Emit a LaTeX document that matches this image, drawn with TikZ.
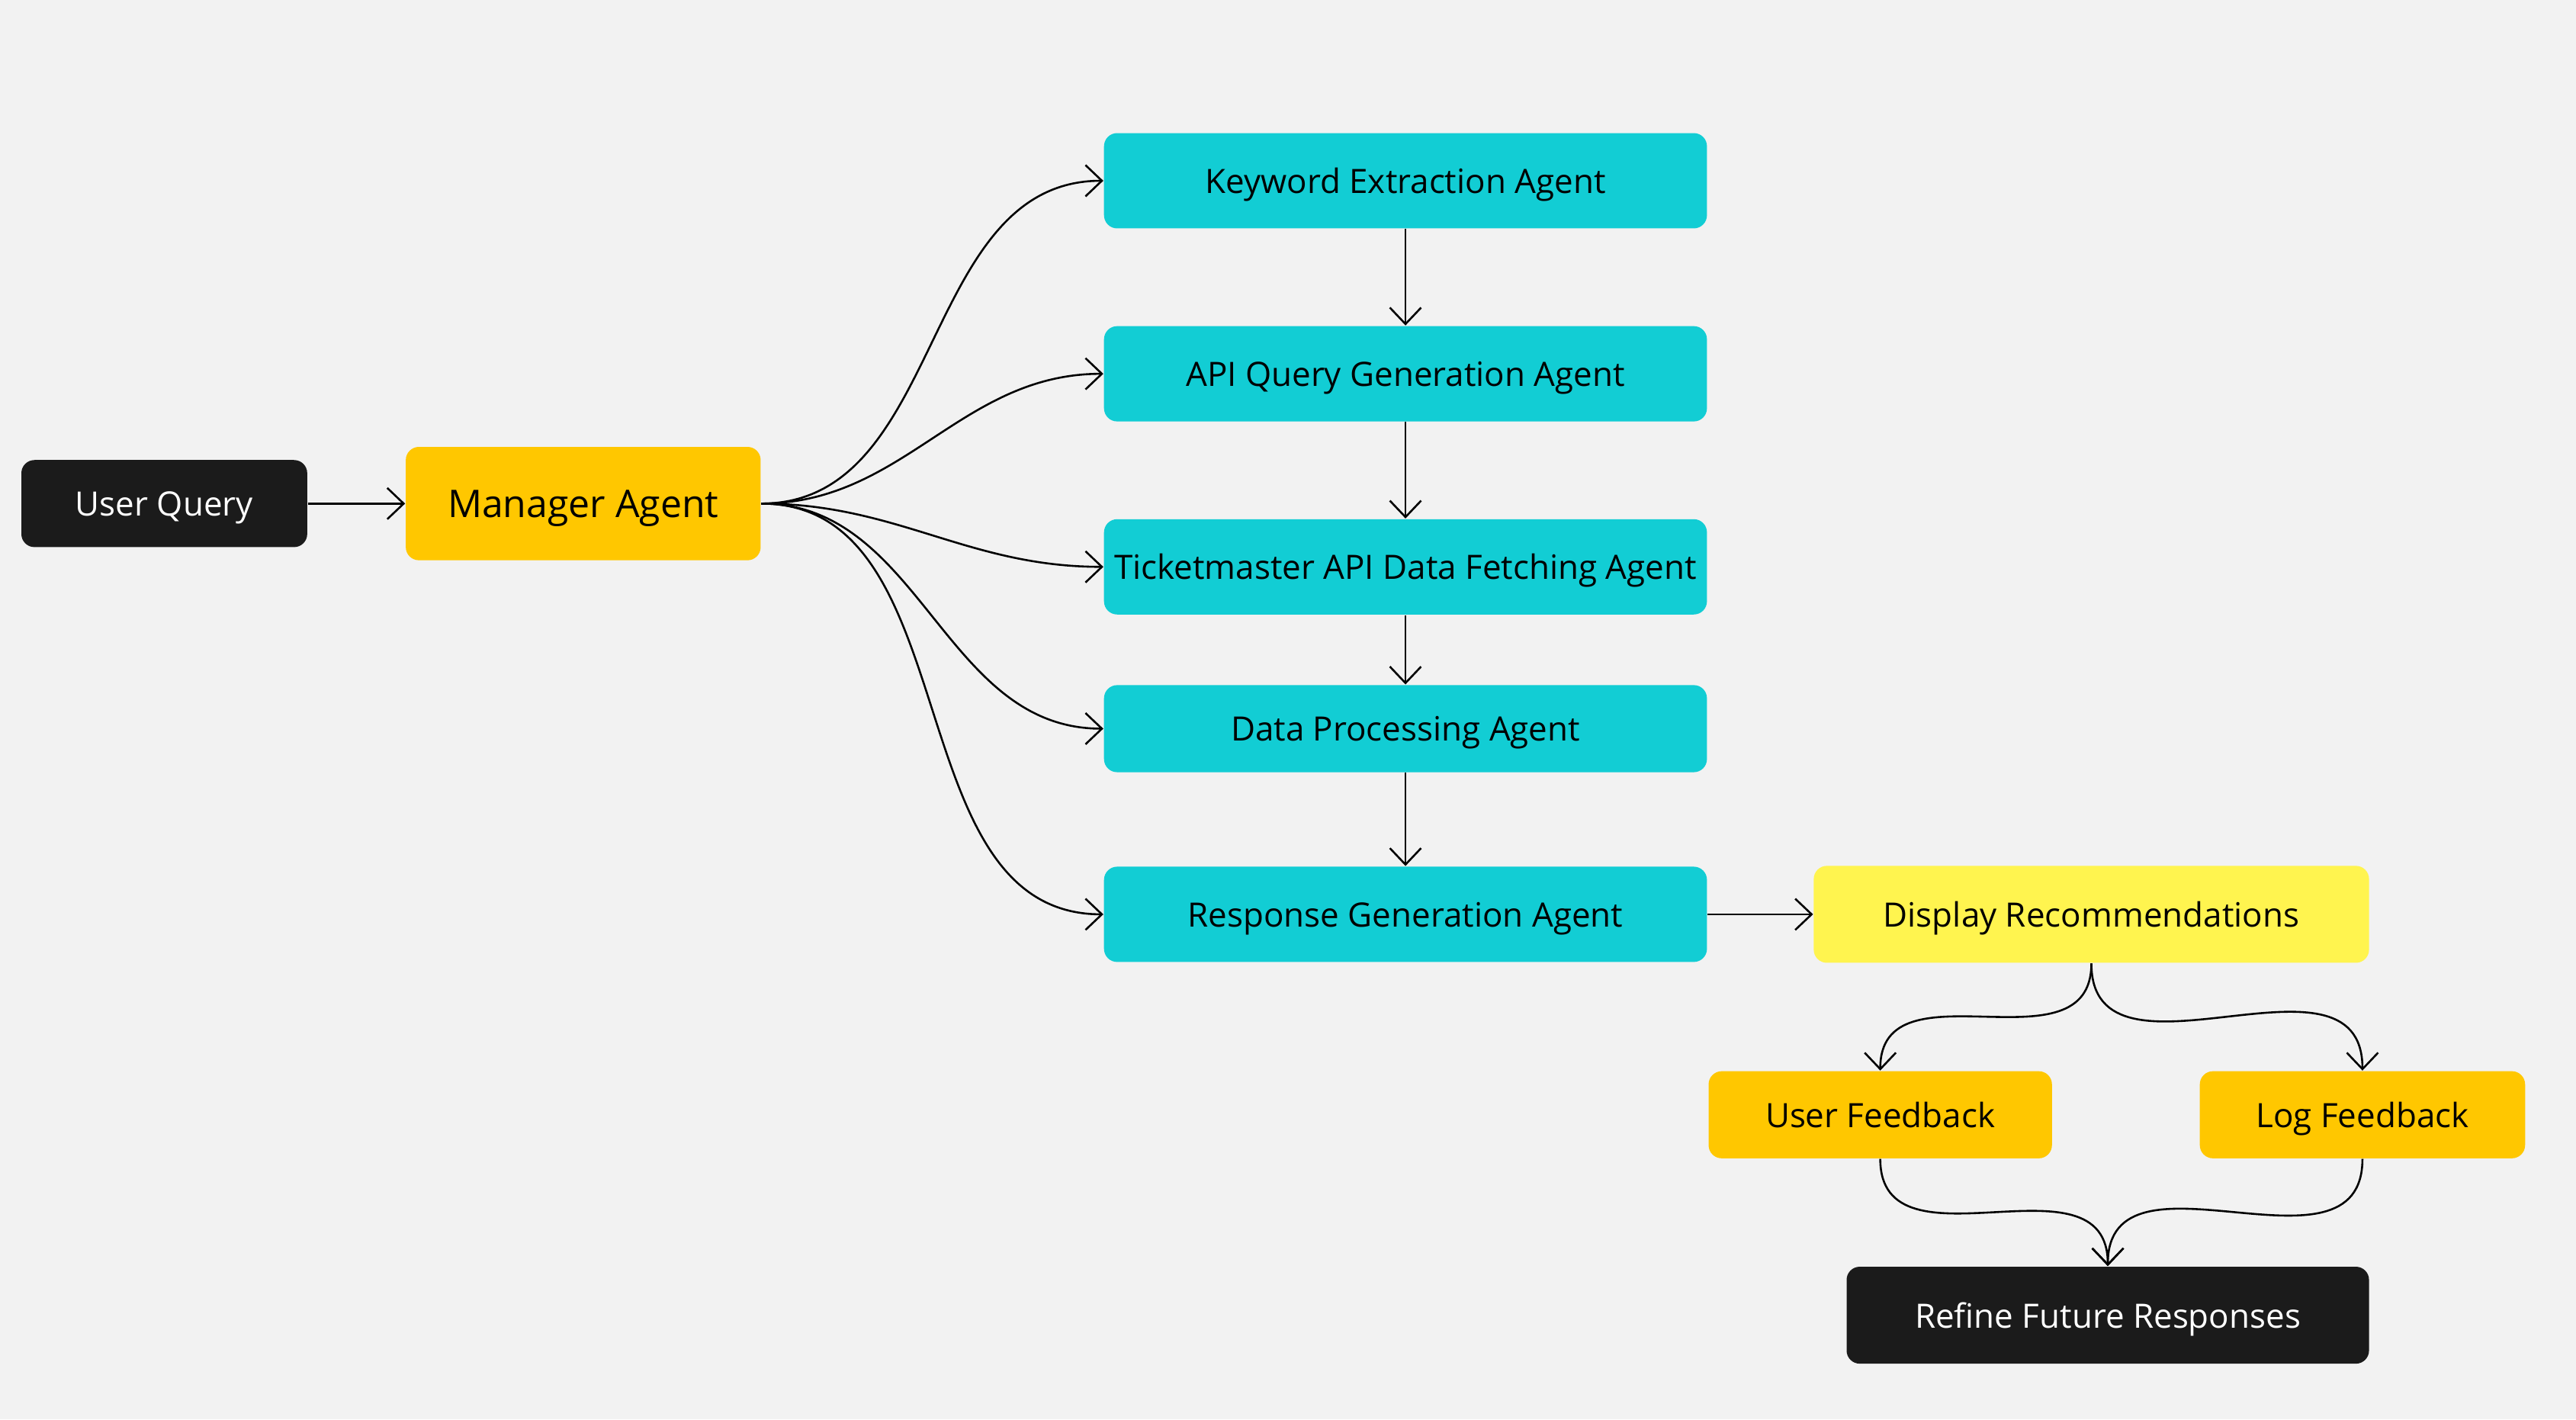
\documentclass[tikz,border=0pt]{standalone}
\usepackage{fontspec}
\setmainfont{Open Sans}
\usetikzlibrary{arrows.meta}
\definecolor{bgc}{HTML}{F2F2F2}
\definecolor{darkc}{HTML}{1B1B1B}
\definecolor{orangec}{HTML}{FFC700}
\definecolor{cyanc}{HTML}{12CDD4}
\definecolor{yellowc}{HTML}{FFF44F}
\tikzset{
  box/.style={rounded corners=4pt, inner sep=0pt, align=center, text depth=0pt, font=\fontsize{10.2}{12}\selectfont},
  darkbox/.style={box, fill=darkc, text=white},
  orangebox/.style={box, fill=orangec, text=black},
  cyanbox/.style={box, fill=cyanc, text=black, minimum width=183.5pt, minimum height=29pt},
  yellowbox/.style={box, fill=yellowc, text=black},
  conn/.style={draw=black, line width=0.6pt, -{Straight Barb[length=5pt,width=9.5pt,line width=0.6pt]}},
}
\begin{document}
\begin{tikzpicture}[x=0.5pt,y=-0.5pt]
\fill[bgc] (0,0) rectangle (1568,864);
\useasboundingbox (0,0) rectangle (1568,864);

\node[darkbox, minimum width=87pt, minimum height=26.5pt] (uq) at (100,306.5) {User Query};
\node[orangebox, minimum width=108pt, minimum height=34.5pt, font=\fontsize{11.6}{14}\selectfont] (ma) at (355,306.5) {Manager Agent};

\node[cyanbox] (kw) at (855.5,110) {Keyword Extraction Agent};
\node[cyanbox] (api) at (855.5,227.5) {API Query Generation Agent};
\node[cyanbox] (tm) at (855.5,345) {Ticketmaster API Data Fetching Agent};
\node[cyanbox, minimum height=26.5pt] (dp) at (855.5,443.5) {Data Processing Agent};
\node[cyanbox] (rg) at (855.5,556.5) {Response Generation Agent};

\node[yellowbox, minimum width=169pt, minimum height=29.5pt] (dr) at (1273,556.5) {Display Recommendations};
\node[orangebox, minimum width=104.5pt, minimum height=26.5pt] (uf) at (1144.5,678.5) {User Feedback};
\node[orangebox, minimum width=99pt, minimum height=26.5pt] (lf) at (1438,678.5) {Log Feedback};
\node[darkbox, minimum width=159pt, minimum height=29.5pt] (rf) at (1283,800.5) {Refine Future Responses};

\draw[conn] (uq.east) -- (ma.west);
\draw[conn] (ma.east) to[out=0,in=180] (kw.west);
\draw[conn] (ma.east) to[out=0,in=180] (api.west);
\draw[conn] (ma.east) to[out=0,in=180] (tm.west);
\draw[conn] (ma.east) to[out=0,in=180] (dp.west);
\draw[conn] (ma.east) to[out=0,in=180] (rg.west);

\draw[conn] (kw.south) -- (api.north);
\draw[conn] (api.south) -- (tm.north);
\draw[conn] (tm.south) -- (dp.north);
\draw[conn] (dp.south) -- (rg.north);
\draw[conn] (rg.east) -- (dr.west);

\draw[conn] (dr.south) to[out=-90,in=90,looseness=1.2] (uf.north);
\draw[conn] (dr.south) to[out=-90,in=90,looseness=1.2] (lf.north);
\draw[conn] (uf.south) to[out=-90,in=90,looseness=1.2] (rf.north);
\draw[conn] (lf.south) to[out=-90,in=90,looseness=1.2] (rf.north);
\end{tikzpicture}
\end{document}
